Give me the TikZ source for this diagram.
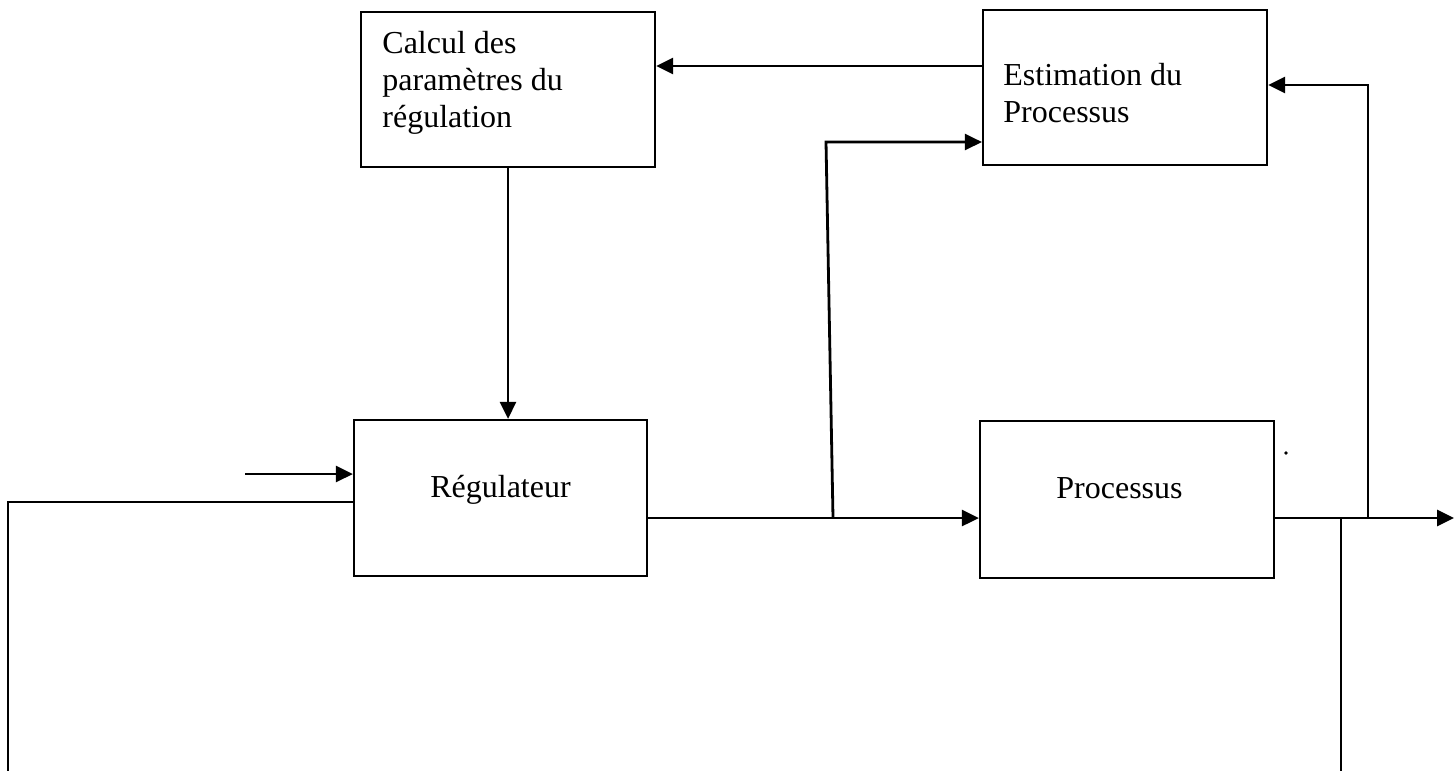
\documentclass[tikz,border=0pt]{standalone}
\usepackage{fontspec}
\setmainfont{Liberation Serif}
\usetikzlibrary{arrows.meta}
\begin{document}
\begin{tikzpicture}[x=0.5pt,y=-0.5pt,
  blk/.style={draw, line width=1.1pt, inner sep=0pt},
  lbl/.style={inner sep=0pt, font=\fontsize{16}{18.5}\selectfont},
  wire/.style={line width=1.4pt},
  arr/.style={wire, -{Triangle[length=8.5pt,width=8pt]}}]
\useasboundingbox (0,0) rectangle (1454,771);

% blocks
\node[blk, minimum width=147pt, minimum height=77.5pt] (calc) at (508,89.5) {};
\node[blk, minimum width=142pt, minimum height=77.5pt] (est) at (1125,87.5) {};
\node[blk, minimum width=146.5pt, minimum height=78pt] (reg) at (500.5,498) {};
\node[blk, minimum width=147pt, minimum height=78.5pt] (proc) at (1127,499.5) {};

% block texts
\node[lbl, anchor=base west] (calc1) at (382,53) {Calcul des};
\node[lbl, anchor=base west] (calc2) at (382,90.5) {paramètres du};
\node[lbl, anchor=base west] (calc3) at (382,127) {régulation};
\node[lbl, anchor=base west] (est1) at (1003,85) {Estimation du};
\node[lbl, anchor=base west] (est2) at (1003,122) {Processus};
\node[lbl, anchor=base] (regt) at (500.5,497) {Régulateur};
\node[lbl, anchor=base] (proct) at (1119.5,498) {Processus};

% routing points
\coordinate (in) at (245,474);
\coordinate (fbcorner) at (8,502);
\coordinate (fbend) at (8,771);
\coordinate (b1) at (833,518);
\coordinate (b1top) at (826,142);
\coordinate (m) at (833,66);
\coordinate (out) at (1454,518);
\coordinate (b2) at (1368,518);
\coordinate (b2top) at (1368,85);
\coordinate (b3) at (1341,518);
\coordinate (b3end) at (1341,771);

% connectors
\draw[arr] (in) -- (in -| reg.west);
\draw[wire] (reg.west |- fbcorner) -- (fbcorner) -- (fbend);
\draw[arr] (calc.south) -- (calc.south |- reg.north);
\draw[arr] (est.west |- m) -- (calc.east |- m);
\draw[arr] (reg.east |- b1) -- (proc.west |- b1);
\draw[arr] (b1) -- (b1top) -- (est.west |- b1top);
\draw[arr] (proc.east |- out) -- (out);
\draw[arr] (b2) -- (b2top) -- (est.east |- b2top);
\draw[wire] (b3) -- (b3end);

% stray dot
\fill (1286,453) circle (0.9pt);
\end{tikzpicture}
\end{document}
